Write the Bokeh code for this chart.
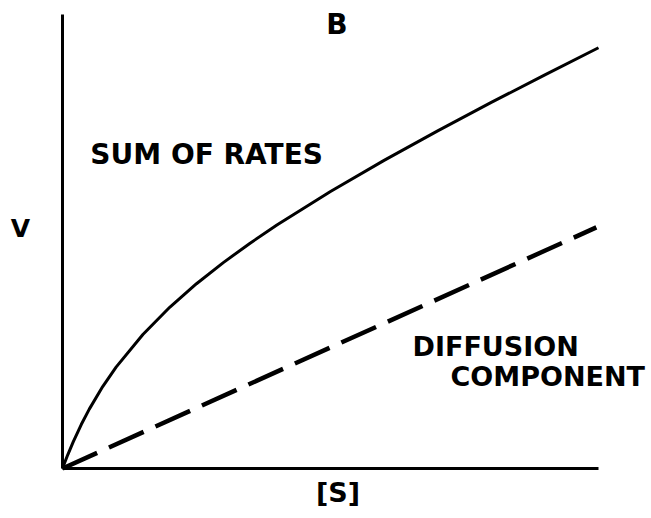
from bokeh.plotting import figure
from bokeh.models import Range1d, Label, FixedTicker
from bokeh.embed import file_html
from bokeh.resources import INLINE

# Data (arbitrary units; axes run 0..10)
s_sum = [0, 0.03, 0.1, 0.2, 0.35, 0.5, 0.75, 1.0, 1.5, 2.0, 2.5, 3.0, 3.5, 4.0, 5.0, 6.0, 7.0, 8.0, 9.0, 10.0]
v_sum = [0, 0.096, 0.307, 0.588, 0.969, 1.308, 1.804, 2.233, 2.953, 3.551, 4.070, 4.535, 4.963,
         5.362, 6.101, 6.786, 7.437, 8.063, 8.671, 9.267]
s_diff = [0, 9.96]
v_diff = [0, 5.31]
axis_extent = (0, 10)

title_text = "B"
x_label = "[S]"
y_label = "V"
sum_label = "SUM OF RATES"
diff_label_1 = "DIFFUSION"
diff_label_2 = "COMPONENT"

FONT = "DejaVu Sans"

p = figure(width=651, height=514, output_backend="svg", toolbar_location=None,
           x_range=Range1d(-1.0634, 10.989), y_range=Range1d(-1.013, 10.198),
           min_border_left=5, min_border_right=0, min_border_top=5, min_border_bottom=0)
p.outline_line_color = None
p.grid.visible = False
p.background_fill_color = "white"
p.border_fill_color = "white"

for ax in (p.xaxis[0], p.yaxis[0]):
    ax.ticker = FixedTicker(ticks=[])
    ax.major_tick_line_color = None
    ax.minor_tick_line_color = None
    ax.major_tick_out = 0
    ax.major_tick_in = 0
    ax.minor_tick_out = 0
    ax.major_label_standoff = 0
    ax.major_label_text_font_size = "0px"
    ax.axis_line_width = 3
    ax.axis_line_color = "black"
    ax.fixed_location = 0
    ax.bounds = axis_extent

p.line(s_sum, v_sum, line_color="black", line_width=3)
p.line(s_diff, v_diff, line_color="black", line_width=4.5, line_dash="38 13")

def add_label(x, y, text, size, align="left"):
    p.add_layout(Label(x=x, y=y, text=text, text_font=FONT, text_font_style="bold",
                       text_font_size=size, text_color="black", text_align=align,
                       text_baseline="alphabetic"))

add_label(5.121, 9.784, title_text, "28px", "center")
add_label(0.52, 6.921, sum_label, "28px")
add_label(6.53, 2.683, diff_label_1, "27px")
add_label(7.24, 2.022, diff_label_2, "27px")
add_label(-0.784, 5.286, y_label, "25px", "center")
add_label(5.14, -0.52, x_label, "27px", "center")

open("out.html", "w").write(file_html(p, INLINE))
